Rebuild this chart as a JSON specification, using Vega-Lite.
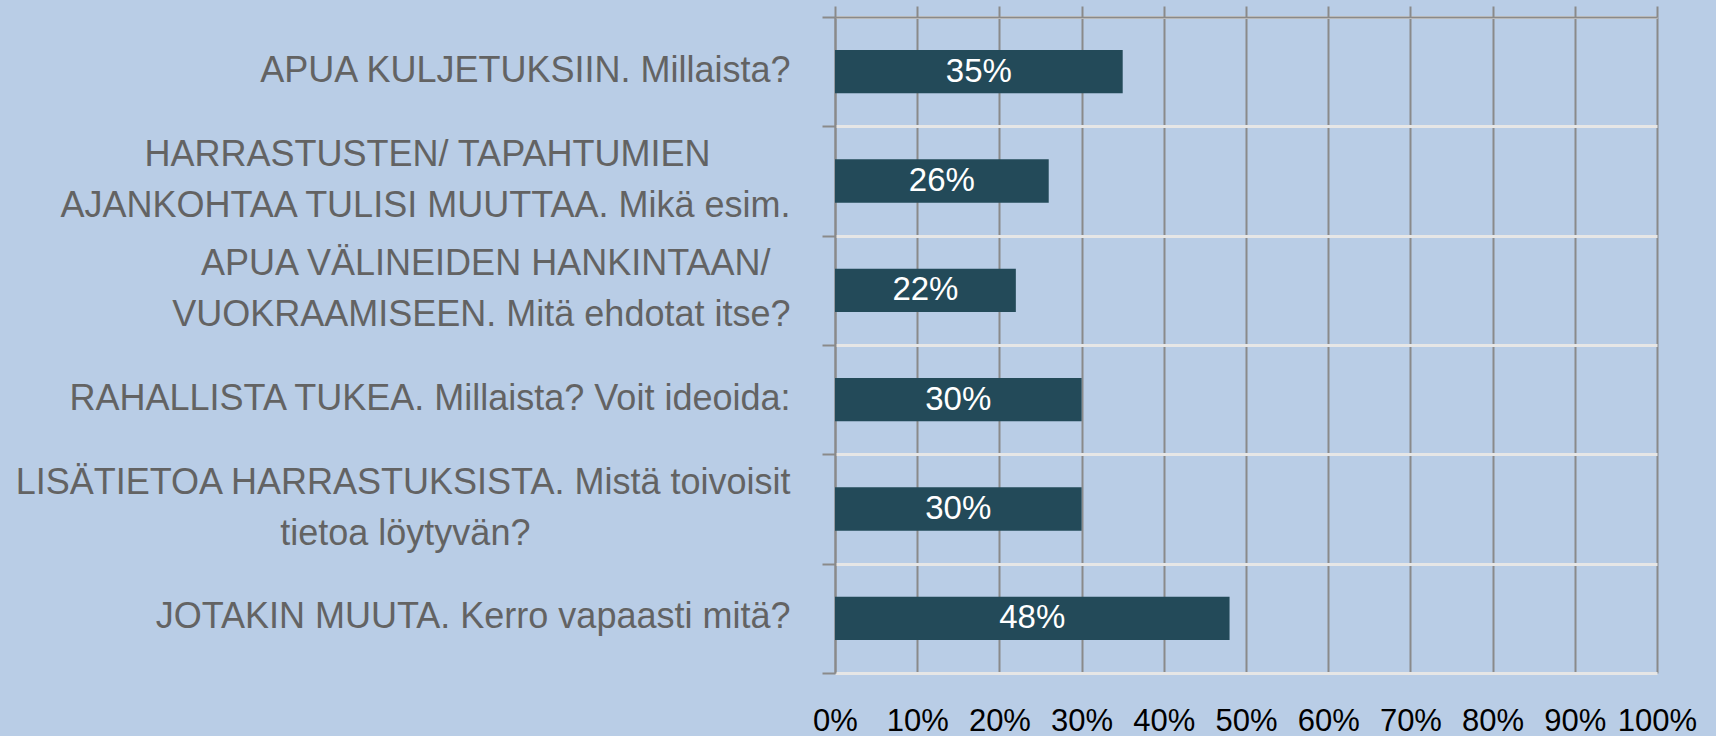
{
  "$schema": "https://vega.github.io/schema/vega-lite/v6.json",
  "width": 822,
  "height": 656,
  "autosize": {"type": "none"},
  "padding": {"left": 835, "top": 17, "right": 59, "bottom": 63},
  "background": "#b9cde6",
  "config": {"view": {"stroke": null}, "font": "Liberation Sans"},
  "data": {
    "values": [
      {"q": "APUA KULJETUKSIIN. Millaista?", "v": 0.35},
      {"q": "HARRASTUSTEN/ TAPAHTUMIEN\nAJANKOHTAA TULISI MUUTTAA. Mikä esim.", "v": 0.26},
      {"q": "APUA VÄLINEIDEN HANKINTAAN/\nVUOKRAAMISEEN. Mitä ehdotat itse?", "v": 0.22},
      {"q": "RAHALLISTA TUKEA. Millaista? Voit ideoida:", "v": 0.30},
      {"q": "LISÄTIETOA HARRASTUKSISTA. Mistä toivoisit\ntietoa löytyvän?", "v": 0.30},
      {"q": "JOTAKIN MUUTA. Kerro vapaasti mitä?", "v": 0.48}
    ]
  },
  "layer": [
    {
      "mark": {"type": "bar", "height": {"band": 0.396}, "color": "#234a59"},
      "encoding": {
        "y": {
          "field": "q",
          "type": "nominal",
          "sort": null,
          "scale": {"paddingInner": 0, "paddingOuter": 0},
          "axis": {
            "orient": "left",
            "title": null,
            "labels": false,
            "domainColor": "#8a8a8a",
            "domainWidth": 2,
            "tickBand": "extent",
            "tickSize": 13,
            "tickColor": "#8a8a8a",
            "tickWidth": 2,
            "grid": true,
            "gridColor": "#e6e6e6",
            "gridWidth": 3
          }
        },
        "x": {
          "field": "v",
          "type": "quantitative",
          "scale": {"domain": [0, 1], "nice": false},
          "axis": {
            "orient": "top",
            "title": null,
            "values": [0, 0.1, 0.2, 0.3, 0.4, 0.5, 0.6, 0.7, 0.8, 0.9, 1],
            "labels": false,
            "ticks": true,
            "tickSize": 11,
            "tickColor": "#8a8a8a",
            "tickWidth": 2,
            "domainColor": "#8a8a8a",
            "domainWidth": 2,
            "grid": true,
            "gridColor": "#8a8a8a",
            "gridWidth": 2
          }
        }
      }
    },
    {
      "mark": {"type": "tick", "opacity": 0},
      "encoding": {
        "y": {
          "field": "q",
          "type": "nominal",
          "sort": null,
          "axis": {
            "orient": "left",
            "title": null,
            "values": ["APUA KULJETUKSIIN. Millaista?", "RAHALLISTA TUKEA. Millaista? Voit ideoida:", "JOTAKIN MUUTA. Kerro vapaasti mitä?"],
            "domain": false,
            "grid": false,
            "ticks": true,
            "tickSize": 13,
            "tickOpacity": 0,
            "labelFont": "Liberation Sans",
            "labelFontSize": 36,
            "labelColor": "#636363",
            "labelLimit": 1000,
            "labelPadding": 32,
            "labelOffset": -1
          }
        },
        "x": {
          "field": "v",
          "type": "quantitative",
          "scale": {"domain": [0, 1], "nice": false},
          "axis": {
            "orient": "bottom",
            "title": null,
            "values": [0, 0.1, 0.2, 0.3, 0.4, 0.5, 0.6, 0.7, 0.8, 0.9, 1],
            "format": ".0%",
            "ticks": false,
            "domain": false,
            "grid": false,
            "labelFont": "Liberation Sans",
            "labelFontSize": 31,
            "labelColor": "#000000",
            "labelPadding": 33,
            "labelFlush": false,
            "labelOverlap": false
          }
        }
      }
    },
    {
      "mark": {"type": "text", "color": "#ffffff", "fontSize": 33, "font": "Liberation Sans", "baseline": "middle", "align": "center"},
      "encoding": {
        "y": {
          "field": "q",
          "type": "nominal",
          "sort": null,
          "axis": {
            "orient": "left",
            "title": null,
            "values": ["HARRASTUSTEN/ TAPAHTUMIEN\nAJANKOHTAA TULISI MUUTTAA. Mikä esim.", "APUA VÄLINEIDEN HANKINTAAN/\nVUOKRAAMISEEN. Mitä ehdotat itse?", "LISÄTIETOA HARRASTUKSISTA. Mistä toivoisit\ntietoa löytyvän?"],
            "domain": false,
            "grid": false,
            "ticks": true,
            "tickSize": 13,
            "tickOpacity": 0,
            "labelFont": "Liberation Sans",
            "labelFontSize": 36,
            "labelColor": "#636363",
            "labelLimit": 1000,
            "labelPadding": 32,
            "labelLineHeight": 51,
            "labelOffset": -26.5,
            "labelExpr": "[split(datum.label, '\\n')[0] + (indexof(datum.label, 'HARRASTUSTEN') >= 0 ? '\u00a0\u00a0\u00a0\u00a0\u00a0\u00a0\u00a0\u00a0\u200b' : (indexof(datum.label, 'VÄLINEIDEN') >= 0 ? '\u00a0\u00a0\u200b' : '')), split(datum.label, '\\n')[1] + (indexof(datum.label, 'LISÄTIETOA') >= 0 ? '\u00a0\u00a0\u00a0\u00a0\u00a0\u00a0\u00a0\u00a0\u00a0\u00a0\u00a0\u00a0\u00a0\u00a0\u00a0\u00a0\u00a0\u00a0\u00a0\u00a0\u00a0\u00a0\u00a0\u00a0\u00a0\u00a0\u200b' : '')]"
          }
        },
        "x": {
          "field": "v",
          "type": "quantitative",
          "scale": {"domain": [0, 2], "nice": false},
          "axis": null
        },
        "text": {"field": "v", "format": ".0%"}
      }
    }
  ],
  "resolve": {"scale": {"x": "independent"}, "axis": {"y": "independent"}}
}
